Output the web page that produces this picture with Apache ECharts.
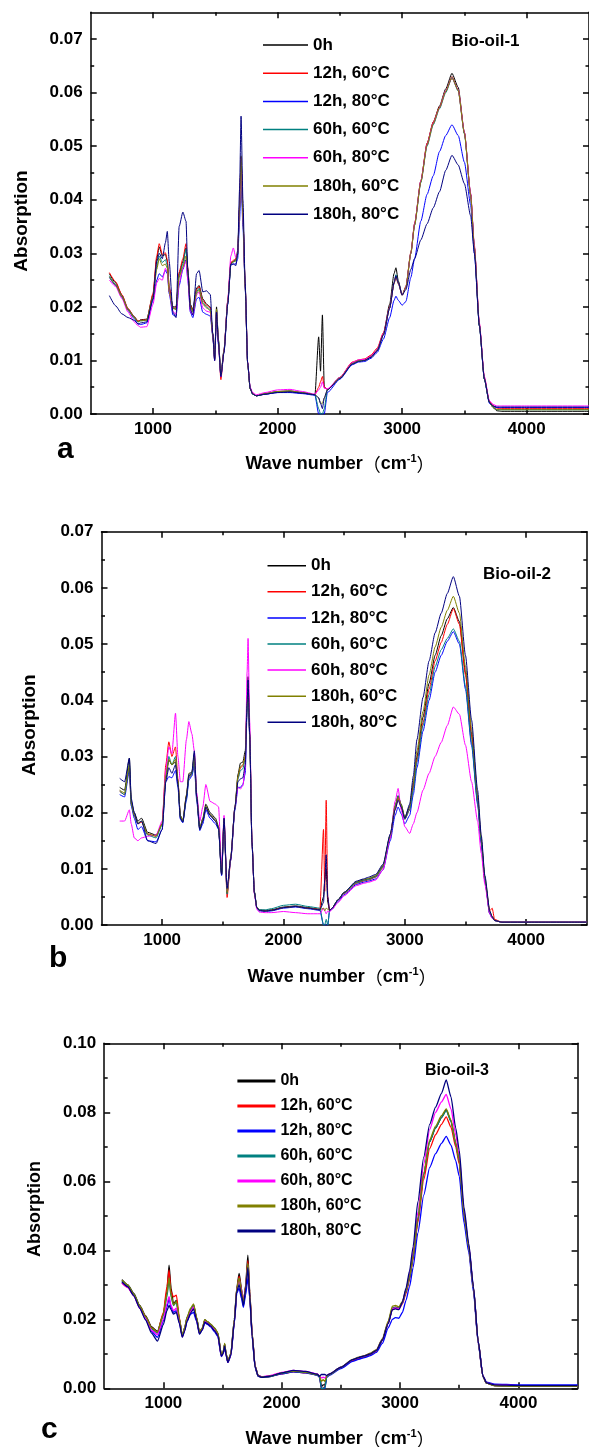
<!DOCTYPE html>
<html><head><meta charset="utf-8">
<script src="https://cdn.jsdelivr.net/npm/echarts@6/dist/echarts.min.js"></script>
<style>html,body{margin:0;padding:0;background:#fff}#c{width:589px;height:1447px}</style>
</head><body><div id="c"></div>
<script>
// ---------- names / ticks ----------
const NAMES = ['0h','12h, 60°C','12h, 80°C','60h, 60°C','60h, 80°C','180h, 60°C','180h, 80°C'];
const COLORS = ['#000000','#ff0000','#0000ff','#008080','#ff00ff','#808000','#000080'];
const X_MAJOR = [1000,2000,3000,4000];
const X_MINOR = [1500,2500,3500];
const Y_MAJOR_AB = [0,0.01,0.02,0.03,0.04,0.05,0.06,0.07];
const Y_MINOR_A = [0.005,0.015,0.025,0.035,0.045,0.055,0.065];
const Y_MINOR_B = [0.005,0.015,0.025,0.035,0.045,0.055,0.065];
const Y_MAJOR_C = [0,0.02,0.04,0.06,0.08,0.10];
const Y_MINOR_C = [0.01,0.03,0.05,0.07,0.09];

// ---------- panel a (Bio-oil-1) ----------
const WN_A = [650,700,750,800,850,880,900,950,1000,1030,
 1050,1075,1100,1115,1130,1160,1185,1210,1240,1265,
 1280,1300,1320,1350,1370,1400,1430,1460,1480,1495,
 1510,1525,1545,1570,1600,1625,1645,1665,1680,1695,
 1707,1722,1740,1760,1780,1800,1830,1900,2000,2100,
 2200,2300,2330,2345,2360,2375,2400,2500,2600,2650,
 2700,2750,2800,2850,2900,2935,2950,2970,3000,3030,
 3070,3100,3150,3200,3250,3300,3350,3400,3450,3500,
 3550,3580,3620,3660,3700,3730,3760,3800,4000,4500];
const A_0h = [.0262,.0245,.0222,.0196,.0182,.0172,.0176,.0177,.0222,.0290,
 .0312,.0295,.0298,.0285,.0235,.0200,.0200,.0262,.0285,.0310,
 .0270,.0205,.0195,.0235,.0240,.0215,.0205,.0200,.0150,.0105,
 .0200,.0140,.0073,.0120,.0210,.0282,.0285,.0288,.0305,.0390,
 .0480,.0370,.0240,.0095,.0048,.0038,.0034,.0037,.0041,.0042,
 .0039,.0036,.0144,.0080,.0185,.0050,.0046,.0068,.0095,.0100,
 .0101,.0108,.0120,.0150,.0205,.0262,.0273,.0248,.0222,.0236,
 .0300,.0355,.0435,.0505,.0545,.0575,.0607,.0636,.0610,.0525,
 .0410,.0310,.0165,.0065,.0022,.0012,.0006,.0005,.0005,.0005];
const A_12h60 = [.0264,.0247,.0223,.0197,.0181,.0174,.0175,.0176,.0225,.0295,
 .0318,.0298,.0301,.0288,.0238,.0198,.0198,.0265,.0290,.0318,
 .0272,.0203,.0193,.0232,.0238,.0212,.0203,.0198,.0148,.0100,
 .0192,.0135,.0064,.0118,.0210,.0283,.0287,.0290,.0300,.0385,
 .0478,.0370,.0240,.0095,.0048,.0038,.0034,.0038,.0042,.0043,
 .0040,.0036,.0050,.0060,.0070,.0050,.0046,.0068,.0097,.0101,
 .0103,.0110,.0123,.0152,.0200,.0245,.0258,.0245,.0222,.0238,
 .0302,.0355,.0435,.0505,.0545,.0573,.0603,.0627,.0605,.0525,
 .0410,.0312,.0168,.0068,.0024,.0016,.0011,.0010,.0010,.0010];
const A_12h80 = [.0255,.0240,.0218,.0193,.0178,.0168,.0167,.0170,.0212,.0250,
 .0262,.0256,.0268,.0262,.0225,.0185,.0182,.0240,.0270,.0288,
 .0250,.0190,.0180,.0215,.0218,.0190,.0186,.0183,.0145,.0100,
 .0185,.0130,.0070,.0115,.0205,.0278,.0280,.0280,.0290,.0360,
 .0437,.0350,.0235,.0095,.0048,.0037,.0034,.0037,.0040,.0040,
 .0038,.0035,.0000,.0000,.0000,.0000,.0040,.0065,.0092,.0097,
 .0098,.0104,.0115,.0140,.0180,.0212,.0220,.0212,.0203,.0210,
 .0255,.0290,.0360,.0410,.0445,.0490,.0520,.0540,.0520,.0470,
 .0390,.0300,.0165,.0065,.0020,.0014,.0012,.0012,.0012,.0012];
const A_60h60 = [.0258,.0242,.0220,.0195,.0180,.0172,.0174,.0175,.0218,.0275,
 .0295,.0283,.0288,.0278,.0230,.0198,.0196,.0258,.0280,.0308,
 .0268,.0200,.0192,.0228,.0235,.0208,.0200,.0195,.0148,.0103,
 .0195,.0138,.0072,.0118,.0208,.0280,.0284,.0286,.0298,.0380,
 .0474,.0365,.0238,.0094,.0047,.0037,.0034,.0038,.0042,.0043,
 .0040,.0036,.0010,.0000,.0000,.0010,.0045,.0067,.0094,.0099,
 .0100,.0106,.0118,.0148,.0198,.0245,.0260,.0245,.0222,.0237,
 .0300,.0352,.0432,.0500,.0540,.0570,.0600,.0628,.0603,.0523,
 .0408,.0310,.0165,.0066,.0022,.0013,.0008,.0008,.0008,.0008];
const A_60h80 = [.0250,.0238,.0216,.0190,.0172,.0165,.0162,.0163,.0205,.0245,
 .0253,.0250,.0272,.0265,.0228,.0192,.0186,.0245,.0272,.0285,
 .0250,.0192,.0185,.0222,.0228,.0198,.0192,.0190,.0148,.0103,
 .0192,.0135,.0070,.0118,.0212,.0295,.0310,.0292,.0300,.0385,
 .0480,.0368,.0240,.0096,.0050,.0040,.0036,.0040,.0045,.0046,
 .0042,.0037,.0045,.0050,.0060,.0048,.0047,.0068,.0096,.0101,
 .0102,.0108,.0120,.0150,.0198,.0243,.0255,.0243,.0222,.0237,
 .0300,.0355,.0435,.0503,.0543,.0572,.0603,.0630,.0605,.0526,
 .0412,.0315,.0170,.0070,.0025,.0018,.0015,.0015,.0015,.0015];
const A_180h60 = [.0256,.0241,.0219,.0194,.0180,.0172,.0174,.0175,.0218,.0270,
 .0290,.0277,.0280,.0272,.0228,.0197,.0195,.0255,.0275,.0295,
 .0262,.0200,.0190,.0225,.0232,.0205,.0198,.0193,.0147,.0103,
 .0196,.0138,.0072,.0118,.0208,.0280,.0284,.0286,.0300,.0385,
 .0482,.0368,.0238,.0094,.0047,.0037,.0034,.0038,.0042,.0043,
 .0040,.0036,.0030,.0020,.0020,.0030,.0045,.0067,.0094,.0099,
 .0100,.0106,.0118,.0148,.0198,.0243,.0255,.0243,.0222,.0237,
 .0300,.0353,.0433,.0502,.0542,.0572,.0602,.0630,.0604,.0524,
 .0409,.0311,.0166,.0066,.0022,.0013,.0008,.0008,.0008,.0008];
const A_180h80 = [.0221,.0202,.0187,.0180,.0175,.0168,.0170,.0172,.0215,.0285,
 .0300,.0290,.0320,.0341,.0285,.0190,.0180,.0350,.0377,.0360,
 .0265,.0195,.0185,.0262,.0268,.0228,.0230,.0223,.0150,.0100,
 .0190,.0135,.0070,.0115,.0205,.0280,.0280,.0277,.0300,.0420,
 .0556,.0400,.0245,.0095,.0048,.0037,.0034,.0037,.0040,.0041,
 .0039,.0036,.0030,.0020,.0010,.0030,.0045,.0066,.0093,.0098,
 .0100,.0106,.0118,.0148,.0198,.0245,.0258,.0245,.0222,.0232,
 .0270,.0290,.0325,.0355,.0385,.0415,.0455,.0483,.0465,.0430,
 .0370,.0300,.0165,.0066,.0022,.0015,.0013,.0013,.0013,.0013];

// ---------- panel b (Bio-oil-2) ----------
const WN_B = [650,690,730,745,770,800,830,880,950,1000,
 1030,1055,1080,1110,1130,1150,1170,1200,1220,1245,
 1265,1285,1310,1335,1360,1395,1440,1465,1490,1510,
 1535,1565,1600,1625,1645,1665,1685,1700,1708,1722,
 1740,1760,1780,1800,1850,1900,2000,2100,2200,2300,
 2330,2340,2352,2365,2380,2400,2450,2500,2600,2660,
 2700,2760,2820,2880,2920,2945,2970,3000,3040,3070,
 3100,3150,3200,3250,3300,3350,3400,3450,3500,3550,
 3600,3630,3660,3700,3720,3740,3800,4000,4200,4500];
const B_0h = [.0245,.0240,.0297,.0220,.0200,.0185,.0190,.0165,.0160,.0180,
 .0260,.0294,.0285,.0290,.0255,.0195,.0186,.0230,.0265,.0270,
 .0305,.0230,.0172,.0190,.0215,.0200,.0190,.0175,.0092,.0190,
 .0058,.0120,.0210,.0268,.0288,.0290,.0310,.0400,.0442,.0340,
 .0150,.0060,.0032,.0027,.0026,.0027,.0032,.0034,.0031,.0028,
 .0050,.0080,.0100,.0040,.0026,.0030,.0045,.0058,.0076,.0080,
 .0082,.0087,.0105,.0160,.0212,.0230,.0215,.0190,.0210,.0250,
 .0300,.0370,.0430,.0480,.0515,.0545,.0565,.0540,.0450,.0340,
 .0225,.0150,.0080,.0020,.0015,.0008,.0005,.0005,.0005,.0005];
const B_12h60 = [.0238,.0232,.0280,.0215,.0195,.0180,.0183,.0162,.0158,.0180,
 .0285,.0326,.0300,.0317,.0260,.0192,.0184,.0228,.0262,.0268,
 .0290,.0225,.0170,.0185,.0208,.0195,.0185,.0172,.0090,.0185,
 .0049,.0115,.0208,.0262,.0280,.0283,.0300,.0390,.0430,.0335,
 .0148,.0058,.0031,.0026,.0025,.0026,.0031,.0033,.0030,.0028,
 .0170,.0060,.0222,.0050,.0025,.0030,.0044,.0056,.0074,.0078,
 .0080,.0085,.0102,.0155,.0205,.0225,.0210,.0188,.0205,.0245,
 .0295,.0360,.0420,.0470,.0503,.0535,.0563,.0535,.0445,.0335,
 .0220,.0148,.0078,.0025,.0030,.0010,.0005,.0005,.0005,.0005];
const B_12h80 = [.0232,.0228,.0275,.0212,.0190,.0170,.0175,.0150,.0148,.0170,
 .0255,.0264,.0262,.0275,.0245,.0188,.0182,.0222,.0258,.0265,
 .0285,.0220,.0168,.0180,.0205,.0190,.0180,.0170,.0088,.0180,
 .0060,.0115,.0205,.0245,.0245,.0250,.0270,.0380,.0420,.0330,
 .0145,.0058,.0030,.0025,.0024,.0025,.0030,.0032,.0029,.0026,
 .0000,.0000,.0000,.0000,.0025,.0028,.0042,.0054,.0072,.0076,
 .0078,.0082,.0098,.0150,.0195,.0210,.0198,.0180,.0195,.0232,
 .0280,.0345,.0400,.0450,.0480,.0505,.0522,.0500,.0420,.0320,
 .0215,.0145,.0078,.0020,.0012,.0008,.0005,.0005,.0005,.0005];
const B_60h60 = [.0238,.0232,.0285,.0215,.0195,.0180,.0185,.0160,.0155,.0178,
 .0265,.0300,.0285,.0300,.0255,.0192,.0184,.0225,.0262,.0268,
 .0295,.0225,.0170,.0185,.0210,.0195,.0185,.0172,.0090,.0185,
 .0055,.0118,.0208,.0260,.0275,.0278,.0295,.0390,.0432,.0335,
 .0148,.0058,.0031,.0027,.0027,.0029,.0035,.0037,.0033,.0030,
 .0000,.0000,.0010,.0000,.0026,.0030,.0045,.0057,.0075,.0079,
 .0081,.0086,.0103,.0158,.0210,.0230,.0213,.0188,.0205,.0240,
 .0290,.0355,.0410,.0460,.0490,.0510,.0527,.0505,.0425,.0325,
 .0218,.0147,.0080,.0022,.0013,.0008,.0005,.0005,.0005,.0005];
const B_60h80 = [.0185,.0185,.0205,.0180,.0155,.0150,.0155,.0158,.0160,.0185,
 .0275,.0317,.0305,.0377,.0300,.0255,.0255,.0330,.0362,.0340,
 .0310,.0235,.0185,.0210,.0250,.0220,.0215,.0210,.0100,.0195,
 .0060,.0118,.0210,.0245,.0242,.0248,.0280,.0450,.0510,.0360,
 .0150,.0055,.0028,.0023,.0022,.0022,.0024,.0022,.0020,.0020,
 .0030,.0025,.0020,.0025,.0023,.0028,.0040,.0052,.0070,.0074,
 .0076,.0080,.0098,.0155,.0220,.0243,.0205,.0175,.0163,.0180,
 .0200,.0240,.0270,.0300,.0325,.0355,.0388,.0375,.0320,.0255,
 .0185,.0128,.0072,.0020,.0012,.0008,.0005,.0005,.0005,.0005];
const B_180h60 = [.0240,.0235,.0285,.0218,.0195,.0182,.0185,.0162,.0158,.0180,
 .0265,.0295,.0285,.0295,.0255,.0194,.0186,.0232,.0270,.0272,
 .0300,.0228,.0172,.0188,.0212,.0197,.0187,.0174,.0091,.0188,
 .0058,.0120,.0210,.0265,.0282,.0285,.0300,.0390,.0430,.0335,
 .0148,.0058,.0031,.0026,.0025,.0026,.0031,.0033,.0030,.0027,
 .0030,.0025,.0030,.0028,.0026,.0030,.0045,.0058,.0077,.0081,
 .0083,.0088,.0106,.0160,.0212,.0228,.0214,.0192,.0212,.0255,
 .0310,.0380,.0445,.0495,.0530,.0560,.0585,.0555,.0460,.0350,
 .0232,.0155,.0085,.0025,.0015,.0008,.0005,.0005,.0005,.0005];
const B_180h80 = [.0261,.0255,.0297,.0225,.0200,.0180,.0185,.0150,.0145,.0170,
 .0255,.0280,.0270,.0285,.0250,.0190,.0183,.0228,.0268,.0272,
 .0310,.0228,.0170,.0185,.0210,.0195,.0185,.0172,.0089,.0190,
 .0065,.0118,.0210,.0255,.0260,.0262,.0285,.0395,.0436,.0338,
 .0148,.0058,.0031,.0026,.0025,.0026,.0031,.0033,.0030,.0027,
 .0040,.0080,.0125,.0050,.0026,.0030,.0045,.0058,.0078,.0082,
 .0085,.0090,.0108,.0162,.0205,.0222,.0210,.0190,.0215,.0265,
 .0330,.0405,.0470,.0520,.0555,.0590,.0620,.0585,.0480,.0365,
 .0240,.0160,.0088,.0025,.0015,.0008,.0005,.0005,.0005,.0005];

// ---------- panel c (Bio-oil-3) ----------
const WN_C = [650,700,750,800,850,900,950,1000,1030,1048,
 1065,1085,1110,1135,1160,1180,1200,1230,1255,1280,
 1305,1330,1350,1375,1400,1430,1460,1490,1505,1518,
 1530,1545,1570,1600,1620,1640,1660,1676,1695,1714,
 1730,1750,1775,1800,1830,1900,2000,2100,2200,2300,
 2320,2335,2350,2365,2380,2400,2500,2600,2650,2700,
 2750,2800,2850,2900,2935,2960,2990,3020,3050,3080,
 3110,3150,3200,3250,3300,3350,3390,3430,3470,3500,
 3540,3580,3620,3660,3700,3730,3800,4000,4200,4500];
const C_0h = [.0315,.0300,.0275,.0240,.0210,.0178,.0165,.0215,.0280,.0357,
 .0290,.0245,.0255,.0200,.0152,.0175,.0205,.0228,.0242,.0205,
 .0162,.0175,.0198,.0192,.0185,.0175,.0160,.0098,.0105,.0128,
 .0100,.0078,.0100,.0200,.0290,.0333,.0290,.0238,.0300,.0386,
 .0280,.0160,.0065,.0038,.0033,.0035,.0043,.0050,.0047,.0040,
 .0035,.0005,.0010,.0010,.0036,.0040,.0060,.0082,.0088,.0093,
 .0100,.0110,.0140,.0190,.0232,.0235,.0232,.0250,.0280,.0320,
 .0380,.0490,.0620,.0715,.0755,.0785,.0807,.0775,.0710,.0660,
 .0507,.0410,.0290,.0135,.0035,.0015,.0008,.0006,.0006,.0006];
const C_12h60 = [.0305,.0292,.0270,.0238,.0208,.0175,.0162,.0220,.0295,.0343,
 .0280,.0265,.0270,.0205,.0150,.0172,.0200,.0225,.0240,.0203,
 .0160,.0173,.0196,.0190,.0183,.0172,.0158,.0095,.0103,.0125,
 .0098,.0076,.0098,.0195,.0285,.0325,.0283,.0245,.0295,.0370,
 .0275,.0158,.0063,.0036,.0032,.0034,.0042,.0048,.0045,.0039,
 .0033,.0000,.0000,.0005,.0034,.0039,.0059,.0080,.0086,.0091,
 .0098,.0108,.0138,.0188,.0230,.0232,.0230,.0245,.0275,.0315,
 .0375,.0480,.0605,.0695,.0735,.0765,.0787,.0757,.0700,.0650,
 .0500,.0405,.0288,.0133,.0035,.0015,.0008,.0006,.0006,.0006];
const C_12h80 = [.0310,.0295,.0270,.0235,.0200,.0165,.0148,.0195,.0235,.0260,
 .0235,.0220,.0225,.0190,.0150,.0168,.0195,.0215,.0220,.0195,
 .0158,.0170,.0190,.0185,.0178,.0165,.0150,.0092,.0100,.0120,
 .0095,.0075,.0095,.0190,.0275,.0290,.0260,.0235,.0270,.0320,
 .0260,.0150,.0060,.0035,.0032,.0034,.0042,.0048,.0045,.0038,
 .0032,.0000,.0000,.0000,.0032,.0037,.0057,.0078,.0084,.0089,
 .0095,.0104,.0130,.0175,.0200,.0205,.0203,.0220,.0255,.0295,
 .0350,.0450,.0560,.0640,.0680,.0710,.0730,.0705,.0660,.0615,
 .0480,.0395,.0280,.0130,.0035,.0018,.0012,.0010,.0010,.0010];
const C_60h60 = [.0312,.0298,.0272,.0238,.0206,.0172,.0160,.0210,.0265,.0315,
 .0265,.0240,.0250,.0200,.0152,.0174,.0204,.0228,.0240,.0204,
 .0161,.0174,.0197,.0191,.0184,.0174,.0159,.0096,.0104,.0127,
 .0099,.0077,.0099,.0198,.0285,.0318,.0280,.0250,.0290,.0360,
 .0270,.0155,.0063,.0036,.0032,.0034,.0044,.0049,.0046,.0039,
 .0034,.0000,.0000,.0002,.0034,.0039,.0060,.0083,.0089,.0093,
 .0100,.0110,.0140,.0190,.0232,.0234,.0231,.0248,.0280,.0320,
 .0380,.0490,.0620,.0715,.0755,.0785,.0805,.0773,.0708,.0658,
 .0505,.0410,.0290,.0135,.0035,.0015,.0008,.0006,.0006,.0006];
const C_60h80 = [.0305,.0292,.0268,.0232,.0202,.0168,.0155,.0200,.0245,.0266,
 .0240,.0225,.0232,.0195,.0150,.0170,.0200,.0222,.0236,.0200,
 .0160,.0172,.0195,.0188,.0181,.0170,.0155,.0094,.0102,.0124,
 .0097,.0076,.0097,.0196,.0283,.0315,.0285,.0255,.0290,.0355,
 .0268,.0155,.0064,.0037,.0034,.0037,.0046,.0052,.0049,.0042,
 .0036,.0030,.0032,.0030,.0036,.0041,.0061,.0083,.0089,.0094,
 .0101,.0111,.0141,.0190,.0230,.0233,.0230,.0250,.0285,.0330,
 .0395,.0510,.0650,.0750,.0800,.0830,.0852,.0810,.0735,.0675,
 .0515,.0415,.0292,.0136,.0036,.0016,.0010,.0008,.0008,.0008];
const C_180h60 = [.0313,.0299,.0273,.0239,.0208,.0175,.0163,.0215,.0275,.0320,
 .0270,.0242,.0252,.0202,.0153,.0176,.0206,.0232,.0245,.0207,
 .0163,.0176,.0199,.0193,.0186,.0176,.0161,.0097,.0106,.0130,
 .0101,.0079,.0101,.0200,.0288,.0320,.0282,.0248,.0292,.0362,
 .0272,.0157,.0064,.0037,.0033,.0035,.0045,.0050,.0047,.0040,
 .0035,.0020,.0025,.0020,.0035,.0040,.0061,.0084,.0090,.0095,
 .0102,.0112,.0143,.0195,.0238,.0240,.0236,.0252,.0285,.0325,
 .0385,.0495,.0625,.0720,.0760,.0790,.0810,.0778,.0712,.0660,
 .0507,.0410,.0290,.0135,.0035,.0015,.0008,.0006,.0006,.0006];
const C_180h80 = [.0308,.0294,.0268,.0232,.0198,.0160,.0137,.0185,.0225,.0240,
 .0228,.0215,.0220,.0188,.0148,.0166,.0194,.0218,.0230,.0198,
 .0157,.0170,.0192,.0187,.0180,.0168,.0153,.0093,.0101,.0122,
 .0096,.0075,.0096,.0192,.0280,.0300,.0270,.0240,.0285,.0350,
 .0265,.0152,.0062,.0036,.0032,.0035,.0045,.0052,.0049,.0041,
 .0035,.0040,.0040,.0040,.0037,.0041,.0061,.0083,.0089,.0094,
 .0100,.0110,.0140,.0188,.0228,.0230,.0228,.0250,.0290,.0340,
 .0410,.0540,.0670,.0765,.0815,.0855,.0894,.0845,.0755,.0690,
 .0525,.0420,.0295,.0137,.0036,.0016,.0010,.0008,.0008,.0008];

// ---------- layout ----------
const FONT = '"Liberation Sans", Arial, Helvetica, sans-serif';
const CJK = '"Noto Sans CJK SC", "Liberation Sans", sans-serif';
const PANELS = [
  {grid:{left:90.7, top:12.3, width:502, height:401.7}, ymax:0.075, yMajor:Y_MAJOR_AB, yMinor:Y_MINOR_A,
   wn:WN_A, series:[A_0h,A_12h60,A_12h80,A_60h60,A_60h80,A_180h60,A_180h80], lw:1,
   leg:{left:263, top:35, w:45, gap:8.2, fs:17, ih:1.5}},
  {grid:{left:101.5, top:531.7, width:485.3, height:393.3}, ymax:0.07, yMajor:Y_MAJOR_AB, yMinor:Y_MINOR_B,
   wn:WN_B, series:[B_0h,B_12h60,B_12h80,B_60h60,B_60h80,B_180h60,B_180h80], lw:1,
   leg:{left:267.5, top:555.7, w:38.5, gap:6.1, fs:17, ih:1.5}},
  {grid:{left:104.2, top:1043.3, width:473.4, height:345}, ymax:0.10, yMajor:Y_MAJOR_C, yMinor:Y_MINOR_C,
   wn:WN_C, series:[C_0h,C_12h60,C_12h80,C_60h60,C_60h80,C_180h60,C_180h80], lw:1.3,
   leg:{left:237.4, top:1071, w:38, gap:5, fs:16, ih:3}}
];

const LINE = {color:'#000', width:1.5};
function xAx(k, pos, vals, len, line, labels){
  return {gridIndex:k, type:'value', min:500, max:4500, position:pos,
    axisLine:{show:line, onZero:false, lineStyle:LINE},
    axisTick:{show:true, inside:true, length:len, customValues:vals, lineStyle:LINE},
    axisLabel:{show:labels, customValues:vals, margin:7, color:'#000', fontSize:17, fontWeight:'bold', fontFamily:FONT,
      formatter:v=>String(v)},
    splitLine:{show:false}};
}
function yAx(k, P, pos, vals, len, line, labels){
  return {gridIndex:k, type:'value', min:0, max:P.ymax, position:pos,
    axisLine:{show:line, onZero:false, lineStyle:LINE},
    axisTick:{show:true, inside:true, length:len, customValues:vals, lineStyle:LINE},
    axisLabel:{show:labels, customValues:vals, margin:8, color:'#000', fontSize:17, fontWeight:'bold', fontFamily:FONT,
      formatter:v=>v.toFixed(2)},
    splitLine:{show:false}};
}

const grids=[], xAxes=[], yAxes=[], series=[], legends=[];
PANELS.forEach((P,k)=>{
  grids.push(P.grid);
  xAxes.push(xAx(k,'bottom',X_MAJOR,6,true,true), xAx(k,'bottom',X_MINOR,3.5,false,false),
             xAx(k,'top',X_MAJOR,6,true,false), xAx(k,'top',X_MINOR,3.5,false,false));
  yAxes.push(yAx(k,P,'left',P.yMajor,6,true,true), yAx(k,P,'left',P.yMinor,3.5,false,false),
             yAx(k,P,'right',P.yMajor,6,true,false), yAx(k,P,'right',P.yMinor,3.5,false,false));
  P.series.forEach((vals,i)=>{
    series.push({type:'line', name:NAMES[i], xAxisIndex:4*k, yAxisIndex:4*k, symbol:'none', showSymbol:false,
      smooth:0.2, smoothMonotone:'x',
      silent:true, animation:false, lineStyle:{color:COLORS[i], width:P.lw}, itemStyle:{color:COLORS[i]},
      data:P.wn.map((x,j)=>[x, vals[j]])});
  });
  legends.push({orient:'vertical', left:P.leg.left, top:P.leg.top, padding:0, itemWidth:P.leg.w, itemHeight:P.leg.ih,
    itemGap:P.leg.gap, selectedMode:false, icon:'rect',
    data:NAMES.map(n=>({name:n, icon:'rect'})),
    textStyle:{fontSize:P.leg.fs, fontWeight:'bold', color:'#000', fontFamily:FONT, lineHeight:20}});
});

function txt(x,y,text,fs,extra){
  return Object.assign({type:'text', x:x, y:y, silent:true,
    style:{text:text, fill:'#000', fontSize:fs, fontWeight:'bold', fontFamily:FONT, align:'center', verticalAlign:'middle',
           textAlign:'center', textVerticalAlign:'middle'}}, extra||{});
}
function letter(x,y,t){
  return {type:'text', x:x, y:y, silent:true, style:{text:t, fill:'#000', fontSize:30, fontWeight:'bold', fontFamily:FONT,
    align:'left', verticalAlign:'middle', textAlign:'left', textVerticalAlign:'middle'}};
}
function xTitle(x,y){
  return {type:'text', x:x, y:y, silent:true, style:{
    text:'{a|Wave number}{p|（}{a|cm}{s|-1}{p|）}', align:'center', verticalAlign:'middle',
    textAlign:'center', textVerticalAlign:'middle',
    rich:{a:{fontSize:18, fontWeight:'bold', fontFamily:FONT, fill:'#000', lineHeight:22},
          p:{fontSize:18, fontFamily:CJK, fill:'#000', lineHeight:22},
          s:{fontSize:11, fontWeight:'bold', fontFamily:FONT, fill:'#000', lineHeight:12, verticalAlign:'top'}}}};
}
const graphics = [
  txt(485.5,41.7,'Bio-oil-1',17), txt(517,574.3,'Bio-oil-2',17), txt(457,1070.7,'Bio-oil-3',16),
  letter(57,450,'a'), letter(49,958.5,'b'), letter(41,1430,'c'),
  xTitle(340,464), xTitle(342,977), xTitle(340,1439),
  txt(22,221,'Absorption',19,{rotation:Math.PI/2}),
  txt(30,725,'Absorption',19,{rotation:Math.PI/2}),
  txt(35,1209,'Absorption',18,{rotation:Math.PI/2})
];

const chart = echarts.init(document.getElementById('c'), null, {renderer:'canvas'});
chart.setOption({backgroundColor:'#ffffff', animation:false, grid:grids, xAxis:xAxes, yAxis:yAxes,
  series:series, legend:legends, graphic:graphics});
</script></body></html>
